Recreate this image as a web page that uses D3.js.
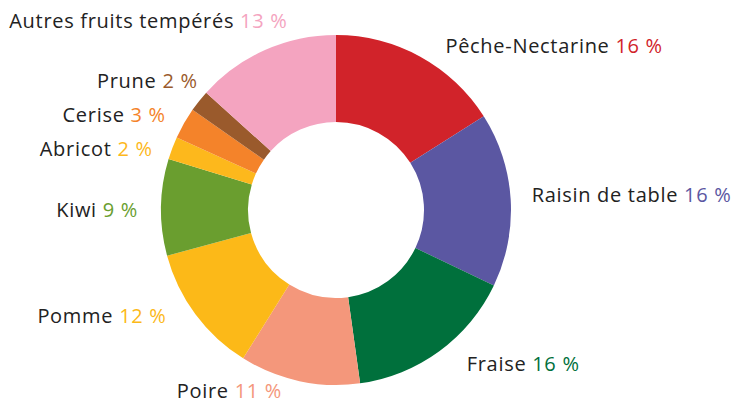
<!DOCTYPE html>
<html><head><meta charset="utf-8">
<script src="https://cdn.jsdelivr.net/npm/d3@7"></script>
<style>html,body{margin:0;padding:0;background:#fff;}svg{display:block;}</style>
</head><body>
<svg id="chart" width="736" height="403"></svg>
<script>
const categories = ["Pêche-Nectarine","Raisin de table","Fraise","Poire","Pomme","Kiwi","Abricot","Cerise","Prune","Autres fruits tempérés"];
const values = [16.0, 16.1, 15.7, 11.1, 11.9, 8.9, 2.1, 2.9, 2.0, 13.3];
const pctLabels = ["16 %","16 %","16 %","11 %","12 %","9 %","2 %","3 %","2 %","13 %"];
const colors = ["#D1232A","#5B57A2","#00703C","#F4977B","#FCB918","#6A9E2F","#FDB81C","#F4832A","#9A5A2C","#F4A4C0"];

const svg = d3.select("#chart");
const cx = 336, cy = 210, rOuter = 175, rInner = 88, rLabel = 196;
const g = svg.append("g").attr("transform", `translate(${cx},${cy})`);

const pie = d3.pie().sort(null).value(d => d);
const arcs = pie(values);
const arc = d3.arc().innerRadius(rInner).outerRadius(rOuter);

g.selectAll("path").data(arcs).enter().append("path")
  .attr("d", arc).attr("fill", (d,i) => colors[i]);

// label nudges (layout only): offsets from the label anchor on the label circle to the text baseline
const nudge = {0:[15,15],1:[0,4],2:[15,3],3:[-13,-4],4:[-12,-4],5:[-2,10],6:[0,15],7:[0,9],8:[15,0],9:[31,-3]};
g.selectAll("text.lab").data(arcs).enter().append("text")
  .attr("class","lab")
  .attr("font-family","'Open Sans', sans-serif")
  .attr("font-size", 20)
  .attr("letter-spacing", 0.7)
  .each(function(d,i){
    const a = (d.startAngle + d.endAngle)/2;
    const n = nudge[i] || [0,0];
    const x = rLabel*Math.sin(a) + n[0];
    const y = -rLabel*Math.cos(a) + n[1];
    const t = d3.select(this).attr("x", x).attr("y", y)
      .attr("text-anchor", Math.sin(a) >= 0 ? "start" : "end");
    t.append("tspan").attr("fill","#222").text(categories[i] + " ");
    t.append("tspan").attr("fill", colors[i]).text(pctLabels[i]);
  });
</script>
</body></html>
